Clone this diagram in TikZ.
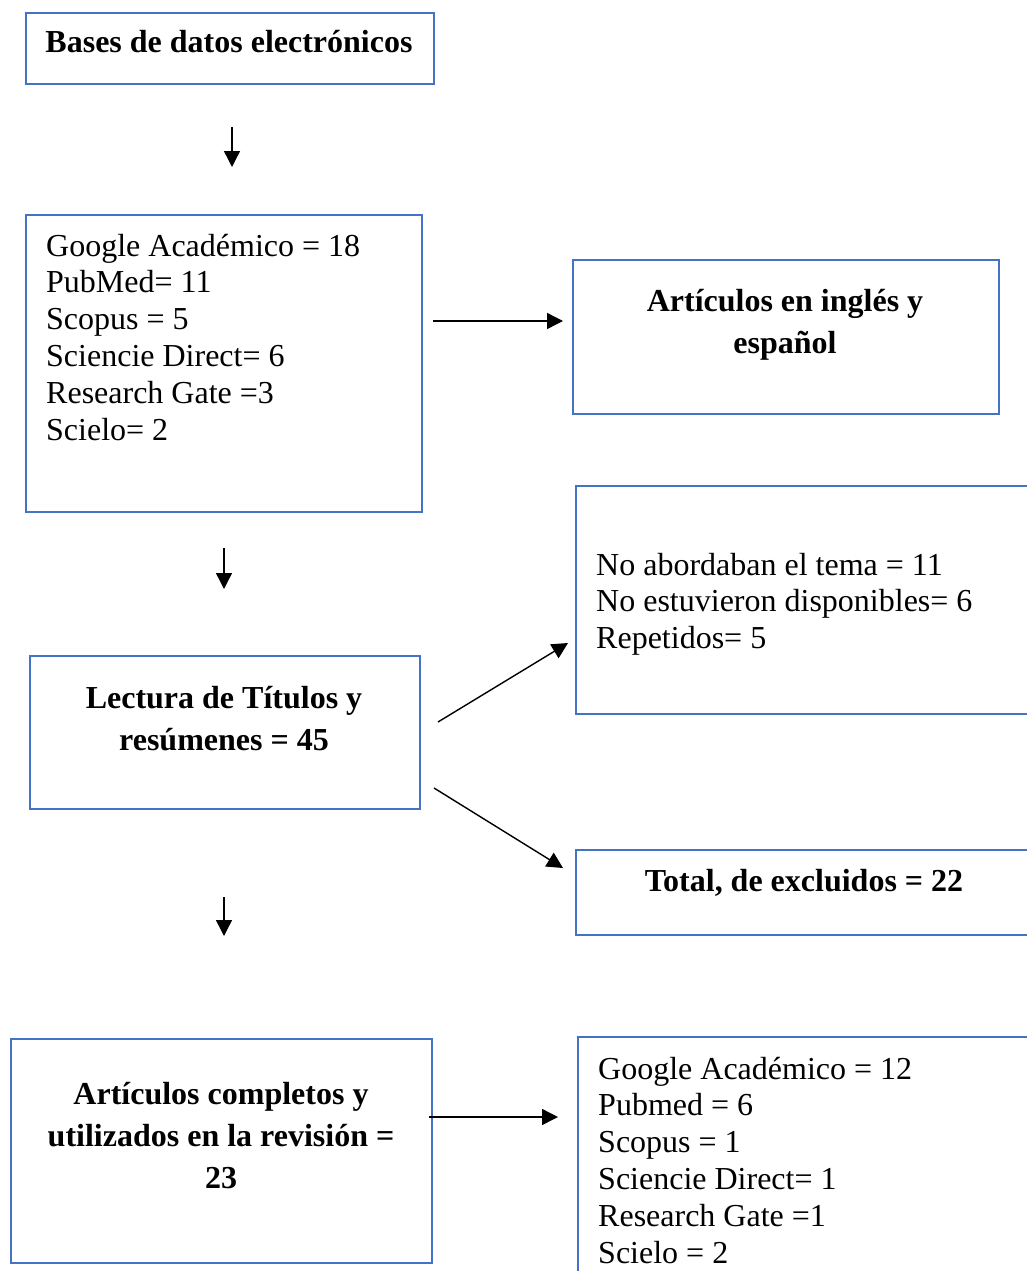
\documentclass[tikz,border=0pt]{standalone}
\usepackage{fontspec}
\setmainfont{Liberation Serif}
\usetikzlibrary{arrows.meta}
\definecolor{boxblue}{HTML}{4472C4}
\begin{document}
\begin{tikzpicture}[x=1pt,y=-1pt,
  box/.style={draw=boxblue, line width=2pt, inner sep=0pt, anchor=north west},
  arr/.style={draw=black, line width=1.4pt, -{Triangle[length=16pt,width=16pt]}},
  ltxt/.style={anchor=base west, inner sep=0pt, font=\fontsize{32}{36.8}\selectfont},
  ctxt/.style={anchor=base, inner sep=0pt, font=\fontsize{32}{42.3}\selectfont\bfseries},
]
\useasboundingbox (0,0) rectangle (1027,1271);
\clip (0,0) rectangle (1027,1271);

% boxes
\node[box, minimum width=408pt, minimum height=71pt] (b1) at (25,12) {};
\node[box, minimum width=396pt, minimum height=297pt] (b2) at (25,214) {};
\node[box, minimum width=426pt, minimum height=154pt] (b3) at (572,259) {};
\node[box, minimum width=470pt, minimum height=228pt] (b4) at (575,485) {};
\node[box, minimum width=390pt, minimum height=153pt] (b5) at (29,655) {};
\node[box, minimum width=470pt, minimum height=85pt] (b6) at (575,849) {};
\node[box, minimum width=421pt, minimum height=224pt] (b7) at (10,1038) {};
\node[box, minimum width=470pt, minimum height=260pt] (b8) at (577,1036) {};

% texts
\node[ctxt] (t1) at (229,53) {Bases de datos electrónicos};
\node[ltxt] (t2) at (46,256) {\begin{tabular}[t]{@{}l@{}}Google Académico = 18\\ PubMed= 11\\ Scopus = 5\\ Sciencie Direct= 6\\ Research Gate =3\\ Scielo= 2\end{tabular}};
\node[ctxt] (t3) at (785,311) {\begin{tabular}[t]{@{}c@{}}Artículos en inglés y\\ español\end{tabular}};
\node[ltxt] (t4) at (596,575) {\begin{tabular}[t]{@{}l@{}}No abordaban el tema = 11\\ No estuvieron disponibles= 6\\ Repetidos= 5\end{tabular}};
\node[ctxt] (t5) at (224,708) {\begin{tabular}[t]{@{}c@{}}Lectura de Títulos y\\ resúmenes = 45\end{tabular}};
\node[ctxt] (t6) at (804,891) {Total, de excluidos = 22};
\node[ctxt] (t7) at (221,1104) {\begin{tabular}[t]{@{}c@{}}Artículos completos y\\ utilizados en la revisión =\\ 23\end{tabular}};
\node[ltxt] (t8) at (598,1079) {\begin{tabular}[t]{@{}l@{}}Google Académico = 12\\ Pubmed = 6\\ Scopus = 1\\ Sciencie Direct= 1\\ Research Gate =1\\ Scielo = 2\end{tabular}};

% arrows
\coordinate (a1s) at (232,127); \coordinate (a1e) at (232,167);
\coordinate (a2s) at (433,321); \coordinate (a2e) at (563,321);
\coordinate (a3s) at (224,548); \coordinate (a3e) at (224,589);
\coordinate (a4s) at (438,722); \coordinate (a4e) at (568,643);
\coordinate (a5s) at (434,788); \coordinate (a5e) at (563,868);
\coordinate (a6s) at (224,897); \coordinate (a6e) at (224,936);
\coordinate (a7s) at (429,1117); \coordinate (a7e) at (558,1117);
\draw[arr] (a1s) -- (a1e);
\draw[arr] (a2s) -- (a2e);
\draw[arr] (a3s) -- (a3e);
\draw[arr] (a4s) -- (a4e);
\draw[arr] (a5s) -- (a5e);
\draw[arr] (a6s) -- (a6e);
\draw[arr] (a7s) -- (a7e);
\end{tikzpicture}
\end{document}
